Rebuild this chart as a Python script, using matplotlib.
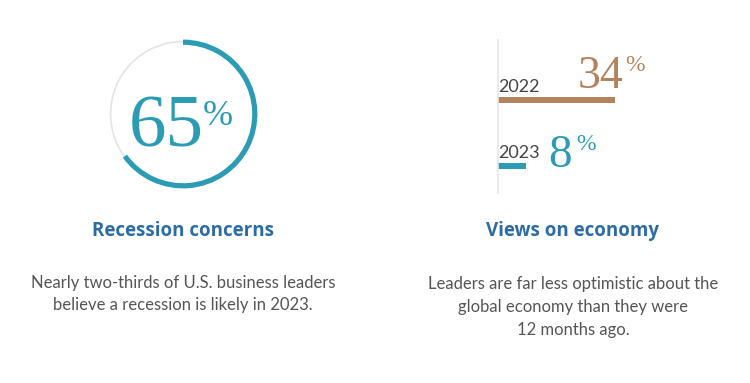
import matplotlib.pyplot as plt
import numpy as np

# data
recession_share = 65
years = ["2022", "2023"]
optimism = [34, 8]

TEAL = "#2b9cb3"
BROWN = "#b3835d"
BLUE = "#2c6ca4"
GREY_TXT = "#555555"

W, H = 750, 383
fig = plt.figure(figsize=(W / 100, H / 100), dpi=100)


def fx(px):
    return px / W


def fy(py):
    return 1 - py / H


# ring
cx, cy, box = 183, 114, 160
ax1 = fig.add_axes([fx(cx - box / 2), fy(cy + box / 2), box / W, box / H])
ax1.pie([100], radius=0.915, colors=["#e3e3e3"], startangle=90,
        wedgeprops=dict(width=0.02, linewidth=0))
ax1.pie([recession_share, 100 - recession_share], radius=0.93,
        colors=[TEAL, "none"], startangle=90, counterclock=False,
        wedgeprops=dict(width=0.065, linewidth=0))
ax1.set_xlim(-1, 1)
ax1.set_ylim(-1, 1)
ax1.set_aspect("equal")
ax1.axis("off")
ax1.text(-0.215, -0.41, f"{recession_share}", ha="center", va="baseline",
         family="Liberation Serif", fontsize=54, color=TEAL)
ax1.text(0.245, -0.14, "%", ha="left", va="baseline",
         family="Liberation Serif", fontsize=26, color=TEAL)

# bars
ax2 = fig.add_axes([fx(498), fy(193), 200 / W, 153 / H])
ypos = [1, 0]
ax2.barh(ypos, optimism, height=0.09, color=[BROWN, TEAL])
ax2.set_xlim(0, 200 / 3.44)
ax2.set_ylim(-27 / 66, (153 - 27) / 66)
for s in ["top", "right", "bottom"]:
    ax2.spines[s].set_visible(False)
ax2.spines["left"].set_color("#e6e6e6")
ax2.spines["left"].set_linewidth(1.2)
ax2.set_xticks([])
ax2.set_yticks([])

for i, yr in enumerate(years):
    ax2.annotate(yr, (0, ypos[i]), xytext=(0.5, 5.8), textcoords="offset points",
                 ha="left", va="baseline", family="Lato", fontsize=13, color="#444444")

# 2022 value: right next to the bar end, above it
ax2.annotate(f"{optimism[0]}", (optimism[0], ypos[0]), xytext=(6, 8.5),
             textcoords="offset points", ha="right", va="baseline",
             family="Liberation Serif", fontsize=33, color=BROWN)
ax2.annotate("%", (optimism[0], ypos[0]), xytext=(7.5, 21),
             textcoords="offset points", ha="left", va="baseline",
             family="Liberation Serif", fontsize=17, color=BROWN)
# 2023 value: after the year label
ax2.annotate(f"{optimism[1]}", (0, ypos[1]), xytext=(36, -1),
             textcoords="offset points", ha="left", va="baseline",
             family="Liberation Serif", fontsize=34, color=TEAL)
ax2.annotate("%", (0, ypos[1]), xytext=(56.5, 11.5),
             textcoords="offset points", ha="left", va="baseline",
             family="Liberation Serif", fontsize=17, color=TEAL)

# titles and captions
fig.text(fx(183), fy(231), "Recession concerns", ha="center", va="center",
         family="Open Sans", fontweight="bold", fontsize=13.5, color=BLUE)
fig.text(fx(573), fy(231), "Views on economy", ha="center", va="center",
         family="Open Sans", fontweight="bold", fontsize=13.5, color=BLUE)
fig.text(fx(183), fy(294), "Nearly two-thirds of U.S. business leaders\nbelieve a recession is likely in 2023.",
         ha="center", va="center", family="Lato", fontsize=12, color=GREY_TXT,
         linespacing=1.45)
fig.text(fx(573), fy(307), "Leaders are far less optimistic about the\nglobal economy than they were\n12 months ago.",
         ha="center", va="center", family="Lato", fontsize=12, color=GREY_TXT,
         linespacing=1.5)

fig.savefig("out.png", dpi=100, facecolor="white")
